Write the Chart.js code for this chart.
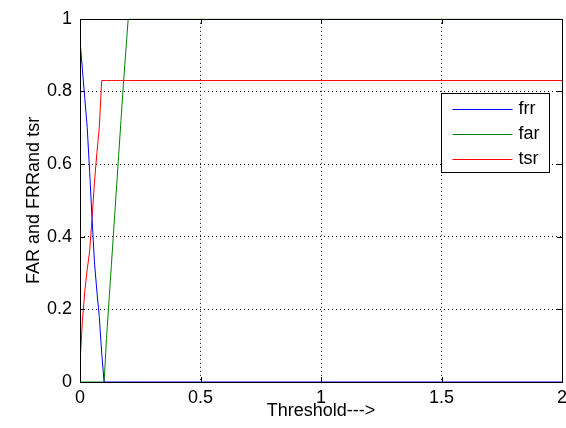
<!DOCTYPE html>
<html>
<head>
<meta charset="utf-8">
<script src="https://cdn.jsdelivr.net/npm/chart.js@4/dist/chart.umd.min.js"></script>
<style>
    body { margin: 0; background: white; }
    #wrap { width: 566px; height: 428px; }
</style>
</head>
<body>
<div id="wrap"><canvas id="rocChart" width="566" height="428"></canvas></div>
<script>
// values
const thresholds = [0, 0.01, 0.02, 0.03, 0.04, 0.05, 0.06, 0.07, 0.08, 0.09, 0.1,
    0.11, 0.12, 0.13, 0.14, 0.15, 0.16, 0.17, 0.18, 0.19, 0.2, 2];
const frr = [0.94, 0.86, 0.78, 0.70, 0.58, 0.45, 0.33, 0.25, 0.18, 0.08, 0,
    0, 0, 0, 0, 0, 0, 0, 0, 0, 0, 0];
const far = [0, 0, 0, 0, 0, 0, 0, 0, 0, 0, 0,
    0.12, 0.22, 0.32, 0.42, 0.52, 0.62, 0.72, 0.82, 0.91, 1, 1];
const tsr = [0.05, 0.17, 0.25, 0.31, 0.36, 0.45, 0.55, 0.63, 0.70, 0.83, 0.83,
    0.83, 0.83, 0.83, 0.83, 0.83, 0.83, 0.83, 0.83, 0.83, 0.83, 0.83];
const seriesNames = ['frr', 'far', 'tsr'];
const seriesColors = ['#0000ff', '#008000', '#ff0000'];
const xTickLabels = ['0', '0.5', '1', '1.5', '2'];
const yTickLabels = ['0', '0.2', '0.4', '0.6', '0.8', '1'];

const fontFamily = "'Liberation Sans', Arial, sans-serif";
const fontSize = 18;

function points(ys) {
    let pts = [];
    for (let i = 0; i < thresholds.length; i++) {
        pts.push({ x: thresholds[i], y: ys[i] });
    }
    return pts;
}

// box round the axes, inward tick marks, and the legend box inside the plot
const framePlugin = {
    id: 'frame',
    afterDraw(chart) {
        const ctx = chart.ctx;
        const a = chart.chartArea;
        const xs = chart.scales.x;
        const ys = chart.scales.y;
        const left = Math.round(a.left), top = Math.round(a.top);
        const right = Math.round(a.right), bottom = Math.round(a.bottom);
        ctx.save();
        ctx.strokeStyle = 'black';
        ctx.lineWidth = 1;
        ctx.setLineDash([]);
        ctx.strokeRect(left + 0.5, top + 0.5, right - left, bottom - top);
        ctx.beginPath();
        xs.ticks.forEach(t => {
            const px = Math.round(xs.getPixelForValue(t.value)) + 0.5;
            ctx.moveTo(px, bottom); ctx.lineTo(px, bottom - 5);
            ctx.moveTo(px, top); ctx.lineTo(px, top + 5);
        });
        ys.ticks.forEach(t => {
            const py = Math.round(ys.getPixelForValue(t.value)) + 0.5;
            ctx.moveTo(left, py); ctx.lineTo(left + 5, py);
            ctx.moveTo(right, py); ctx.lineTo(right - 5, py);
        });
        ctx.stroke();

        // legend
        const bx = right - 120.5;
        const by = top + 74.5;
        ctx.fillStyle = 'white';
        ctx.fillRect(bx, by, 108, 79);
        ctx.strokeRect(bx, by, 108, 79);
        ctx.font = fontSize + 'px ' + fontFamily;
        ctx.textBaseline = 'middle';
        ctx.textAlign = 'left';
        for (let i = 0; i < seriesNames.length; i++) {
            const ly = Math.round(by + 15 + i * 25) + 0.5;
            ctx.strokeStyle = seriesColors[i];
            ctx.beginPath();
            ctx.moveTo(bx + 11, ly);
            ctx.lineTo(bx + 71, ly);
            ctx.stroke();
            ctx.fillStyle = 'black';
            ctx.fillText(seriesNames[i], bx + 77, ly);
        }
        ctx.restore();
    }
};

const ctx = document.getElementById('rocChart').getContext('2d');

const rocChart = new Chart(ctx, {
    type: 'line',
    data: {
        datasets: [{
            label: seriesNames[0],
            data: points(frr),
            borderColor: seriesColors[0],
            borderWidth: 1,
        }, {
            label: seriesNames[1],
            data: points(far),
            borderColor: seriesColors[1],
            borderWidth: 1,
        }, {
            label: seriesNames[2],
            data: points(tsr),
            borderColor: seriesColors[2],
            borderWidth: 1,
        }]
    },
    options: {
        responsive: false,
        animation: false,
        elements: {
            point: { radius: 0 },
            line: { tension: 0 }
        },
        layout: {
            padding: { top: 18, right: 0, left: 0, bottom: 0 }
        },
        plugins: {
            legend: { display: false },
            tooltip: { enabled: false }
        },
        scales: {
            x: {
                type: 'linear',
                min: 0,
                max: 2,
                afterFit: (scale) => {
                    scale.height = 46;
                    scale.paddingLeft = 0;
                    scale.paddingRight = 4;
                },
                ticks: {
                    stepSize: 0.5,
                    color: 'black',
                    padding: 5,
                    maxRotation: 0,
                    font: { family: fontFamily, size: fontSize },
                    callback: (value, index) => xTickLabels[index]
                },
                grid: {
                    drawTicks: false,
                    color: (c) => (c.index === 0 || c.index === xTickLabels.length - 1) ? 'rgba(0,0,0,0)' : 'black'
                },
                border: { display: false, dash: [1, 3] },
                title: {
                    display: true,
                    text: 'Threshold--->',
                    color: 'black',
                    padding: { top: 0, bottom: 6 },
                    font: { family: fontFamily, size: fontSize }
                }
            },
            y: {
                min: 0,
                max: 1,
                afterFit: (scale) => { scale.width = 80; },
                ticks: {
                    stepSize: 0.2,
                    color: 'black',
                    padding: 8,
                    font: { family: fontFamily, size: fontSize },
                    callback: (value, index) => yTickLabels[index]
                },
                grid: {
                    drawTicks: false,
                    color: (c) => (c.index === 0 || c.index === yTickLabels.length - 1) ? 'rgba(0,0,0,0)' : 'black'
                },
                border: { display: false, dash: [1, 3] },
                title: {
                    display: true,
                    text: 'FAR and FRRand tsr',
                    color: 'black',
                    padding: { top: 23, bottom: 0 },
                    font: { family: fontFamily, size: fontSize }
                }
            }
        }
    },
    plugins: [framePlugin]
});
</script>
</body>
</html>
